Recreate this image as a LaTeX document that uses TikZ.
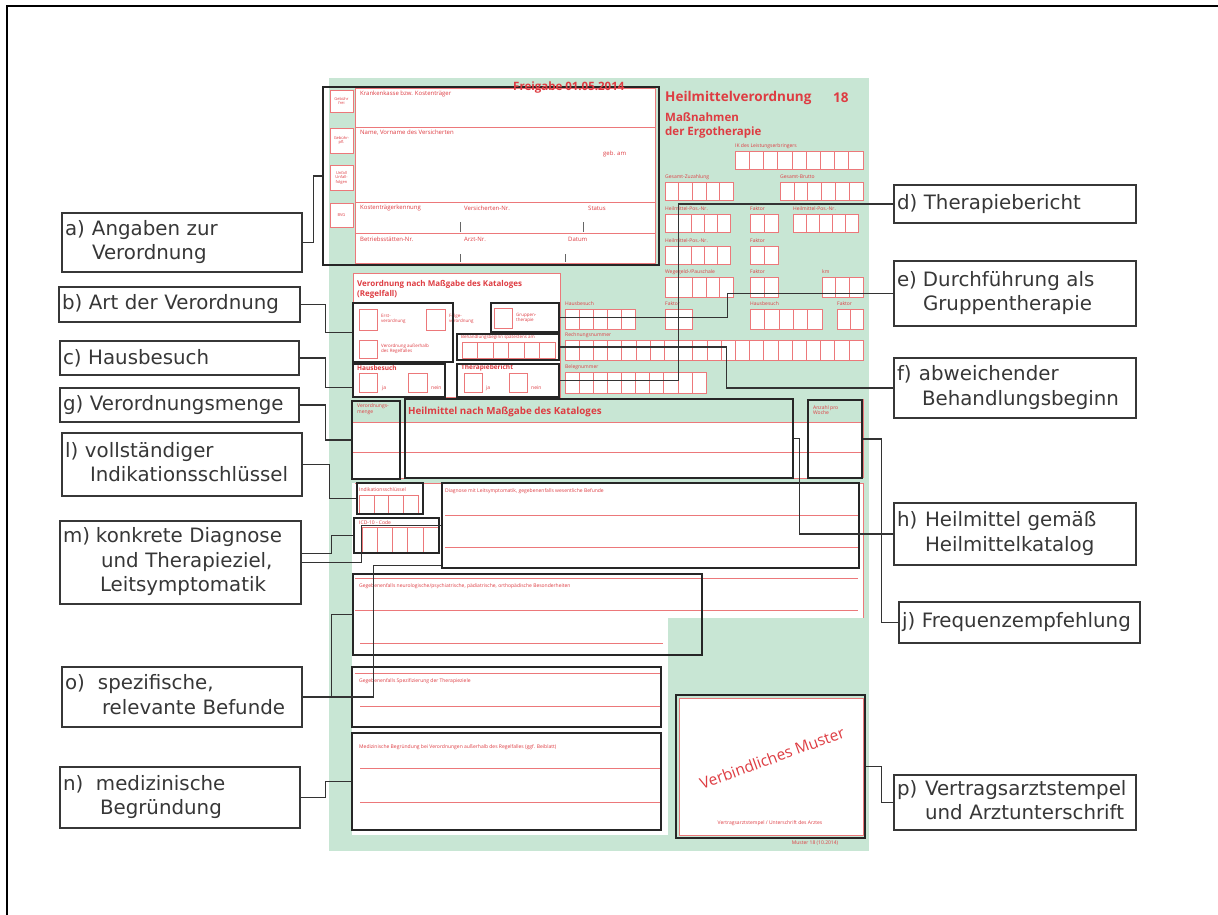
\documentclass[tikz,border=0pt]{standalone}
\usepackage{fontspec}
\setmainfont{Open Sans}
\newfontfamily\calloutfont{DejaVu Sans}
\usepackage{tikz}

\definecolor{formgreen}{RGB}{200,230,212}
\definecolor{formred}{RGB}{222,60,66}
\definecolor{linered}{RGB}{236,120,122}
\definecolor{labelgray}{RGB}{55,55,55}

\tikzset{
  redline/.style={draw=linered, line width=0.6pt},
  redtxt/.style={text=formred, anchor=west, inner sep=0pt, align=left, font=\fontsize{5}{5.5}\selectfont},
  redhead/.style={text=formred, anchor=west, inner sep=0pt, align=left, font=\bfseries\fontsize{6.5}{7.5}\selectfont},
  frame/.style={draw=black!85, line width=1.4pt, inner sep=0pt},
  callout/.style={draw=labelgray, line width=1.1pt, fill=white, text=labelgray, inner sep=3pt, align=left, font=\calloutfont\fontsize{19.8}{24.5}\selectfont},
  conn/.style={draw=black!80, line width=1.1pt},
}

\newcommand{\digits}[5]{\foreach \k in {1,...,#3}{\draw[redline, fill=white] ({#1+(\k-1)*#4},#2) rectangle +(#4,#5);}}
\newcommand{\lbl}[3][27pt]{\noindent\begin{tabular}{@{}p{#1}@{}l@{}}#2&#3\end{tabular}}

\begin{document}
\begin{tikzpicture}[x=1pt, y=-1pt]
    \useasboundingbox (0,0) rectangle (1218,915) ;
    \draw[line width=2pt] (7,915) -- (7,6) -- (1218,6) ;

    % form sheet
    \fill[formgreen] (329,78) rectangle (869,851) ;
    \foreach \yy/\hh/\tx in {90/22/Gebühr\\frei, 128/25/Gebühr-\\pfl., 165/25/Unfall\\Unfall-\\folgen, 203/24/BVG} {
      \draw[redline, fill=white] (330,\yy) rectangle (353,\yy+\hh) ;
      \node[redtxt, anchor=center, align=center, font=\fontsize{4}{4.5}\selectfont] at (341.5,\yy+\hh/2) {\tx} ;
    }
    \draw[redline, fill=white] (355,88) rectangle (655,263) ;
    \draw[redline] (355,127) -- (655,127) (355,202) -- (655,202) (355,233) -- (655,233) ;
    \draw[black!60] (460,222) -- (460,232) (583,222) -- (583,232) (460,254) -- (460,262) (565,254) -- (565,262) ;
    \node[redtxt, font=\fontsize{6}{7}\selectfont] at (360,94) {Krankenkasse bzw. Kostenträger} ;
    \node[redtxt, font=\fontsize{6}{7}\selectfont] at (360,133) {Name, Vorname des Versicherten} ;
    \node[redtxt, font=\fontsize{6}{7}\selectfont] at (603,154) {geb. am} ;
    \node[redtxt, font=\fontsize{6}{7}\selectfont] at (360,208) {Kostenträgerkennung} ;
    \node[redtxt, font=\fontsize{6}{7}\selectfont] at (464,208) {Versicherten-Nr.} ;
    \node[redtxt, font=\fontsize{6}{7}\selectfont] at (588,208) {Status} ;
    \node[redtxt, font=\fontsize{6}{7}\selectfont] at (360,239) {Betriebsstätten-Nr.} ;
    \node[redtxt, font=\fontsize{6}{7}\selectfont] at (464,239) {Arzt-Nr.} ;
    \node[redtxt, font=\fontsize{6}{7}\selectfont] at (568,239) {Datum} ;

    \node[redhead, font=\bfseries\fontsize{13.5}{14}\selectfont] at (665,98) {Heilmittelverordnung} ;
    \node[redhead, font=\bfseries\fontsize{13.5}{14}\selectfont] at (833,98) {18} ;
    \node[redhead, font=\bfseries\fontsize{11.5}{12}\selectfont] at (665,117) {Maßnahmen} ;
    \node[redhead, font=\bfseries\fontsize{11.5}{12}\selectfont] at (665,133) {der Ergotherapie} ;

    \node[redtxt] at (735,146) {IK des Leistungserbringers} ; \digits{735}{151}{9}{14.2}{18}
    \node[redtxt] at (665,177) {Gesamt-Zuzahlung} ; \digits{665}{182}{5}{13.6}{18}
    \node[redtxt] at (780,177) {Gesamt-Brutto} ; \digits{780}{182}{6}{13.8}{18}
    \node[redtxt] at (665,209) {Heilmittel-Pos.-Nr.} ; \digits{665}{214}{5}{13}{18}
    \node[redtxt] at (750,209) {Faktor} ; \digits{750}{214}{2}{14}{18}
    \node[redtxt] at (793,209) {Heilmittel-Pos.-Nr.} ; \digits{793}{214}{5}{13}{18}
    \node[redtxt] at (665,241) {Heilmittel-Pos.-Nr.} ; \digits{665}{246}{5}{13}{18}
    \node[redtxt] at (750,241) {Faktor} ; \digits{750}{246}{2}{14}{18}
    \node[redtxt] at (665,272) {Wegegeld-/Pauschale} ; \digits{665}{277}{5}{13.6}{20}
    \node[redtxt] at (750,272) {Faktor} ; \digits{750}{277}{2}{14}{20}
    \node[redtxt] at (822,272) {km} ; \digits{822}{277}{3}{13.7}{20}
    \node[redtxt] at (565,304) {Hausbesuch} ; \digits{565}{309}{5}{14}{20}
    \node[redtxt] at (665,304) {Faktor} ; \digits{665}{309}{2}{13.5}{20}
    \node[redtxt] at (750,304) {Hausbesuch} ; \digits{750}{309}{5}{14.4}{20}
    \node[redtxt] at (837,304) {Faktor} ; \digits{837}{309}{2}{13}{20}
    \node[redtxt] at (565,335) {Rechnungsnummer} ; \digits{565}{340}{21}{14.19}{20}
    \node[redtxt] at (565,367) {Belegnummer} ; \digits{565}{372}{10}{14.1}{21}

    \draw[redline, fill=white] (353,273) rectangle (560,397) ;
    \node[redhead, font=\bfseries\fontsize{8}{10.5}\selectfont, anchor=north west] at (357,280) {Verordnung nach Maßgabe des Kataloges\\(Regelfall)} ;
    \draw[redline] (359,309) rectangle (377,330) (426,309) rectangle (445,330) (494,308) rectangle (512,328) (359,340) rectangle (377,358) ;
    \node[redtxt, font=\fontsize{4.5}{5.5}\selectfont] at (381,319) {Erst-\\verordnung} ;
    \node[redtxt, font=\fontsize{4.5}{5.5}\selectfont] at (449,319) {Folge-\\verordnung} ;
    \node[redtxt, font=\fontsize{4.5}{5.5}\selectfont] at (516,318) {Gruppen-\\therapie} ;
    \node[redtxt, font=\fontsize{4.5}{5.5}\selectfont] at (381,349) {Verordnung außerhalb\\des Regelfalles} ;
    \node[redtxt, font=\fontsize{4.5}{5.5}\selectfont] at (461,337) {Behandlungsbeginn spätestens am} ;
    \digits{462}{342}{6}{15.5}{16}
    \node[redhead] at (357,368) {Hausbesuch} ;
    \node[redhead] at (461,368) {Therapiebericht} ;
    \draw[redline] (359,373) rectangle (377,392) (408,373) rectangle (427,392) (464,373) rectangle (482,392) (509,373) rectangle (527,392) ;
    \node[redtxt] at (382,388) {ja} ;
    \node[redtxt] at (431,388) {nein} ;
    \node[redtxt] at (486,388) {ja} ;
    \node[redtxt] at (531,388) {nein} ;

    \node[redtxt] at (357,409) {Verordnungs-\\menge} ;
    \node[redhead, font=\bfseries\fontsize{9.8}{10}\selectfont] at (408,412) {Heilmittel nach Maßgabe des Kataloges} ;
    \node[redtxt] at (813,410) {Anzahl pro\\Woche} ;
    \fill[white] (352,422) rectangle (863,478) ;
    \draw[redline] (352,422) -- (863,422) (352,452) -- (863,452) (352,478) -- (863,478) (863,399) -- (863,478) ;

    \fill[white] (352,483) rectangle (863,618) ;
    \fill[white] (352,618) rectangle (668,835) ;
    \draw[redline] (355,483) -- (863,483) -- (863,618) ;
    \draw[redline] (445,515) -- (858,515) (445,547) -- (858,547) (355,578) -- (858,578) (355,610) -- (858,610) ;
    \draw[redline] (360,643) -- (663,643) (355,673) -- (660,673) (360,706) -- (660,706) (360,768) -- (660,768) (360,802) -- (660,802) ;
    \node[redtxt] at (359,490) {Indikationsschlüssel} ; \digits{359}{495}{4}{14.8}{18}
    \node[redtxt] at (359,523) {ICD-10 - Code} ; \digits{362}{527}{5}{15.2}{25}
    \node[redtxt] at (445,491) {Diagnose mit Leitsymptomatik, gegebenenfalls wesentliche Befunde} ;
    \node[redtxt] at (359,586) {Gegebenenfalls neurologische/psychiatrische, pädiatrische, orthopädische Besonderheiten} ;
    \node[redtxt] at (359,681) {Gegebenenfalls Spezifizierung der Therapieziele} ;
    \node[redtxt] at (359,747) {Medizinische Begründung bei Verordnungen außerhalb des Regelfalles (ggf. Beiblatt)} ;

    \draw[redline, fill=white] (679,698) rectangle (863,835) ;
    \node[text=formred, rotate=20, font=\fontsize{15.5}{16}\selectfont] at (772,758) {Verbindliches Muster} ;
    \node[redtxt, anchor=center] at (770,823) {Vertragsarztstempel / Unterschrift des Arztes} ;
    \node[redtxt, anchor=center] at (815,843) {Muster 18 (10.2014)} ;

    % highlighted fields
    \node[frame, minimum width=336pt, minimum height=178pt] (fa) at (491,176) {} ;
    \node[frame, minimum width=100pt, minimum height=59pt] (fb) at (403,332.5) {} ;
    \node[frame, minimum width=68pt, minimum height=29pt] (fe) at (525,317.5) {} ;
    \node[frame, minimum width=102pt, minimum height=26pt] (ff) at (508,347) {} ;
    \node[frame, minimum width=92pt, minimum height=33pt] (fc) at (399,380.5) {} ;
    \node[frame, minimum width=102pt, minimum height=33pt] (fd) at (508,380.5) {} ;
    \node[frame, minimum width=48pt, minimum height=78pt] (fg) at (376,440) {} ;
    \node[frame, minimum width=388pt, minimum height=79pt] (fh) at (599,438.5) {} ;
    \node[frame, minimum width=54pt, minimum height=78pt] (fj) at (835,439) {} ;
    \node[frame, minimum width=66pt, minimum height=31pt] (fl) at (390,498.5) {} ;
    \node[frame, minimum width=85pt, minimum height=35pt] (fi) at (396.5,535.5) {} ;
    \node[frame, minimum width=417pt, minimum height=85pt] (fdiag) at (650.5,525.5) {} ;
    \node[frame, minimum width=349pt, minimum height=81pt] (fo) at (527.5,614.5) {} ;
    \node[frame, minimum width=309pt, minimum height=60pt] (fz) at (506.5,697) {} ;
    \node[frame, minimum width=309pt, minimum height=97pt] (fn) at (506.5,781.5) {} ;
    \node[frame, minimum width=189pt, minimum height=143pt] (fp) at (770.5,766.5) {} ;

    \node[redhead, font=\bfseries\fontsize{11.5}{12}\selectfont] at (513,88) {Freigabe 01.05.2014} ;

    % callouts
    \node[callout, text width=234pt, minimum height=59pt] (a) at (182,242.5) {\lbl{a)}{Angaben zur\\&Verordnung}} ;
    \node[callout, text width=235pt, minimum height=35pt] (b) at (179.5,304.5) {b) Art der Verordnung} ;
    \node[callout, text width=233pt, minimum height=34pt] (c) at (179.5,358) {c) Hausbesuch} ;
    \node[callout, text width=233pt, minimum height=34pt] (g) at (179.5,405) {g) Verordnungsmenge} ;
    \node[callout, text width=234pt, minimum height=63pt] (l) at (182,464.5) {\lbl[20pt]{l)}{vollständiger\\&\hspace*{5pt}Indikationsschlüssel}} ;
    \node[callout, text width=235pt, minimum height=83pt] (m) at (180.5,562.5) {\lbl[33pt]{m)}{konkrete Diagnose\\&\hspace*{5pt}und Therapieziel,\\&\hspace*{4pt}Leitsymptomatik}} ;
    \node[callout, text width=234pt, minimum height=60pt] (o) at (182,697) {\lbl[33pt]{o)}{spezifische,\\&\hspace*{4pt}relevante Befunde}} ;
    \node[callout, text width=234pt, minimum height=61pt] (n) at (180,797.5) {\lbl[33pt]{n)}{medizinische\\&\hspace*{4pt}Begründung}} ;
    \node[callout, text width=236pt, minimum height=38pt] (d) at (1015,204) {d) Therapiebericht} ;
    \node[callout, text width=236pt, minimum height=65pt] (e) at (1015,293.5) {\lbl[26pt]{e)}{Durchführung als\\&Gruppentherapie}} ;
    \node[callout, text width=236pt, minimum height=60pt] (f) at (1015,388) {\lbl[22pt]{f)}{abweichender\\&\hspace*{3pt}Behandlungsbeginn}} ;
    \node[callout, text width=236pt, minimum height=62pt] (h) at (1015,534) {\lbl[28pt]{h)}{Heilmittel gemäß\\&Heilmittelkatalog}} ;
    \node[callout, text width=235pt, minimum height=41pt] (j) at (1019.5,622.5) {j) Frequenzempfehlung} ;
    \node[callout, text width=236pt, minimum height=53pt] (p) at (1015,802.5) {\lbl[28pt]{p)}{Vertragsarztstempel\\&und Arztunterschrift}} ;

    \draw[conn] (a.east) -- ++(11,0) |- (fa.west) ;
    \draw[conn] (b.east) -- ++(25,0) |- (fb.west) ;
    \draw[conn] (c.east) -- ++(26,0) |- ([yshift=-7pt]fc.west) ;
    \draw[conn] (g.east) -- ++(26,0) |- (fg.west) ;
    \draw[conn] (l.east) -- ++(27,0) |- (fl.west) ;
    \draw[conn] ([yshift=9pt]m.east) -- ++(30,0) |- (fi.west) ;
    \draw[conn] (m.east) -- ++(60,0) |- (fdiag.west) ;
    \draw[conn] (o.east) -- ++(29,0) |- (fo.west) ;
    \draw[conn] (o.east) -- ++(71,0) |- ([yshift=3pt]fdiag.south west) ;
    \draw[conn] (n.east) -- ++(25,0) |- (fn.west) ;
    \draw[conn] (d.west) -- ++(-215,0) |- (fd.east) ;
    \draw[conn] (e.west) -- ++(-166,0) |- (fe.east) ;
    \draw[conn] (f.west) -- ++(-167,0) |- (ff.east) ;
    \draw[conn] (h.west) -- ++(-94,0) |- (fh.east) ;
    \draw[conn] (j.west) -- ++(-17,0) |- (fj.east) ;
    \draw[conn] (p.west) -- ++(-12,0) |- (fp.east) ;
\end{tikzpicture}
\end{document}
